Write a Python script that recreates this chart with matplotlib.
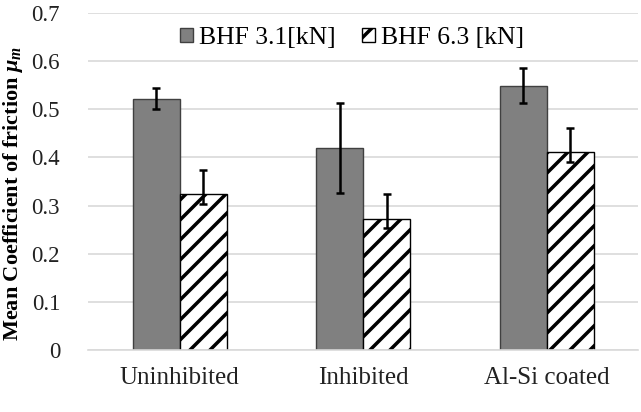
import matplotlib
matplotlib.use("Agg")
import matplotlib.pyplot as plt
import numpy as np

# values
categories = ["Uninhibited", "Inhibited", "Al-Si coated"]
series_names = ["BHF 3.1[kN]", "BHF 6.3 [kN]"]
bhf_low = [0.522, 0.420, 0.549]
bhf_low_err_lo = [0.022, 0.094, 0.035]
bhf_low_err_hi = [0.022, 0.094, 0.036]
bhf_high = [0.324, 0.272, 0.412]
bhf_high_err_lo = [0.021, 0.019, 0.021]
bhf_high_err_hi = [0.050, 0.052, 0.050]
y_ticks = [0, 0.1, 0.2, 0.3, 0.4, 0.5, 0.6, 0.7]

# render at a higher dpi so the '//' hatch gets the wider stripe spacing
# of the reference; K rescales every size given in points
DPI = 120
K = 100 / DPI

plt.rcParams['font.family'] = ['Liberation Serif', 'DejaVu Serif']
plt.rcParams['mathtext.fontset'] = 'custom'
plt.rcParams['mathtext.it'] = 'Liberation Serif:italic:bold'
plt.rcParams['mathtext.rm'] = 'Liberation Serif:bold'
plt.rcParams['hatch.linewidth'] = 2.1

fig = plt.figure(figsize=(641 / DPI, 412 / DPI), dpi=DPI)
ax = fig.add_axes([0.137, 0.1505, 0.859, 0.818])

x = np.arange(len(categories))
w = 0.256

# grey bars
ax.bar(x - w / 2, bhf_low, w, color='#808080', edgecolor='#404040',
       linewidth=1.0 * K, label=series_names[0], zorder=2)
# hatched bars
ax.bar(x + w / 2, bhf_high, w, color='white', edgecolor='black',
       hatch='//', linewidth=1.0 * K, label=series_names[1], zorder=2)

# error bars
ax.errorbar(x - w / 2, bhf_low, yerr=[bhf_low_err_lo, bhf_low_err_hi],
            fmt='none', ecolor='black', elinewidth=1.8 * K, capsize=3 * K,
            capthick=1.8 * K, zorder=3)
ax.errorbar(x + w / 2, bhf_high, yerr=[bhf_high_err_lo, bhf_high_err_hi],
            fmt='none', ecolor='black', elinewidth=1.8 * K, capsize=3 * K,
            capthick=1.8 * K, zorder=3)

ax.set_xlim(-0.5, 2.5)
ax.set_ylim(0, 0.7)
ax.set_yticks(y_ticks)
ax.set_yticklabels(["0"] + [f"{t:.1f}" for t in y_ticks[1:]])
ax.set_xticks(x)
ax.set_xticklabels(categories)
ax.tick_params(axis='both', length=0, labelcolor='#222222')
ax.tick_params(axis='y', labelsize=16.5 * K, pad=20 * K)
ax.tick_params(axis='x', labelsize=18 * K, pad=12 * K)

ax.grid(axis='y', color='#d9d9d9', linewidth=1.2 * K, zorder=0)
ax.set_axisbelow(True)
for s in ['top', 'right', 'left']:
    ax.spines[s].set_visible(False)
ax.spines['bottom'].set_color('#d9d9d9')
ax.spines['bottom'].set_linewidth(1.2 * K)

ax.set_ylabel(r"Mean Coefficient of friction $\mu_m$", fontsize=16 * K,
              fontweight='bold')
ax.yaxis.set_label_coords(-0.1145, 0.463)

ax.legend(loc='upper center', bbox_to_anchor=(0.48, 1.0), ncol=2,
          frameon=False, fontsize=18.5 * K, handlelength=0.5, handleheight=0.5,
          handletextpad=0.25, columnspacing=1.0, borderaxespad=0.15)

fig.savefig("out.png", dpi=DPI, facecolor='white')
